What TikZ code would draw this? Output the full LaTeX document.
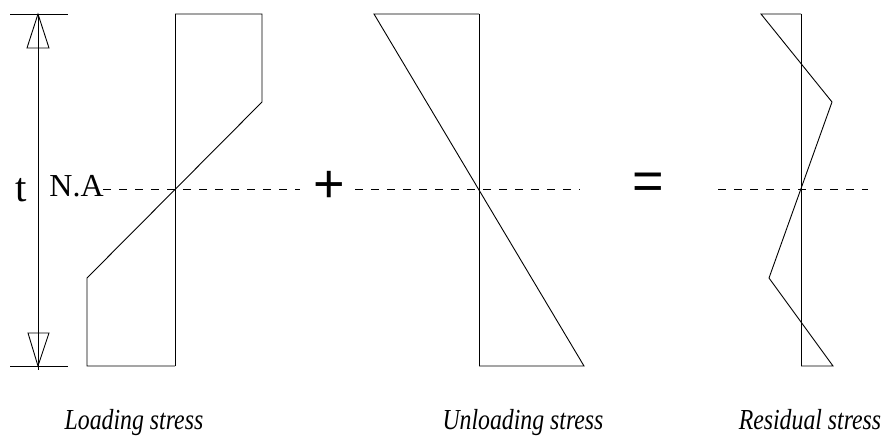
\documentclass[tikz,border=0pt]{standalone}
\usepackage{fontspec}
\setmainfont{Liberation Serif}
\newfontfamily\sansf{Liberation Sans}
\begin{document}
\begin{tikzpicture}[x=1pt,y=-1pt, line width=0.9pt,
  dline/.style={dash pattern=on 8pt off 8pt, line width=0.7pt},
  captext/.style={font=\fontsize{29}{32}\selectfont\itshape, anchor=base, xscale=0.82, transform shape},
  optext/.style={font=\sansf\fontsize{54}{58}\selectfont, inner sep=0pt},
  arrowtri/.style={line width=0.9pt}]
\useasboundingbox (0,0) rectangle (888,441);

% dimension
\coordinate (dimtop) at (38,14);
\coordinate (dimbot) at (38,370);
\draw (10,14) -- (68,14);
\draw (10,366) -- (68,366);
\draw (dimtop) -- (dimbot);
\draw[arrowtri] (38,14) -- (27,48) -- (49,48) -- cycle;
\draw[arrowtri] (38,366) -- (28,333) -- (49,333) -- cycle;
\node[font=\fontsize{41}{44}\selectfont, anchor=base, inner sep=0pt] (tlab) at (21,201) {t};
\node[font=\fontsize{32}{35}\selectfont, anchor=base west, inner sep=0pt] (na) at (49,196) {N.A};

% loading stress
\draw[dline] (103,189) -- (300,189);
\draw (175,14) -- (175,366);
\draw (175,14) -- (262,14) -- (262,102) -- (87,278) -- (87,366) -- (175,366);

\node[optext] (plus) at (329,187) {+};

% unloading stress
\draw[dline] (355,189) -- (580,189);
\draw (479,14) -- (479,366);
\draw (479,14) -- (374,14) -- (584,366) -- (479,366);

\node[optext] (eq) at (648,186) {=};

% residual stress
\draw[dline] (718,189) -- (868,189);
\draw (801,14) -- (801,366);
\draw (801,14) -- (761,14) -- (832,102) -- (769,278) -- (833,366) -- (801,366);

% captions
\node[captext] (c1) at (134,429) {Loading stress};
\node[captext] (c2) at (523,429) {Unloading stress};
\node[captext] (c3) at (810,429) {Residual stress};
\end{tikzpicture}
\end{document}
